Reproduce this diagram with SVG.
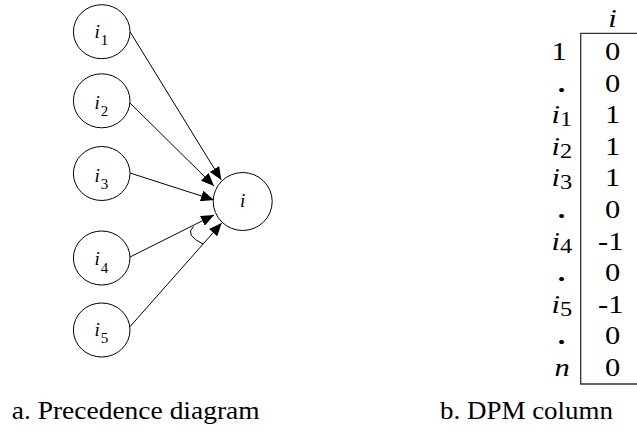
<svg xmlns="http://www.w3.org/2000/svg" width="637" height="431" viewBox="0 0 637 431" font-family="'Liberation Serif', 'Times New Roman', Times, serif">
  <style>
    .node { fill: #ffffff; stroke: #000000; stroke-width: 1; }
    .edge { fill: none; stroke: #000000; stroke-width: 1; }
    .rule { fill: none; stroke: #333333; stroke-width: 1.3; }
    text { font-family: 'Liberation Serif', 'Times New Roman', Times, serif; fill: #000000; }
    .lbl { font-size: 19px; font-style: italic; }
    .sub { font-size: 15px; font-style: normal; }
    .cell { font-size: 25px; }
    .tsub { font-size: 20px; font-style: normal; }
    .dot { font-weight: bold; }
    .caption { font-size: 25px; }
  </style>
  <defs>
    <marker id="arrow" markerUnits="userSpaceOnUse" markerWidth="13" markerHeight="11" viewBox="0 0 13 11" refX="13" refY="5.5" orient="auto">
      <path d="M0,0 L13,5.5 L0,11 z" fill="#000000"/>
    </marker>
  </defs>

  <!-- a. precedence diagram: connectors -->
  <g id="connectors">
    <line class="edge" x1="130" y1="31.7" x2="221.3" y2="180" marker-end="url(#arrow)"/>
    <line class="edge" x1="130" y1="103" x2="214" y2="186" marker-end="url(#arrow)"/>
    <line class="edge" x1="130" y1="173" x2="214" y2="200" marker-end="url(#arrow)"/>
    <line class="edge" x1="130" y1="257" x2="214" y2="215" marker-end="url(#arrow)"/>
    <line class="edge" x1="130" y1="326.7" x2="221.7" y2="223" marker-end="url(#arrow)"/>
    <!-- angle mark between the i4 and i5 edges -->
    <path class="edge" d="M193.5,226.5 Q184,235 203,244"/>
  </g>

  <!-- predecessor nodes -->
  <g id="node-i1">
    <ellipse class="node" cx="101.7" cy="31.7" rx="28.3" ry="27"/>
    <text class="lbl" x="94.5" y="38">i<tspan class="sub" dx="1" dy="7">1</tspan></text>
  </g>
  <g id="node-i2">
    <ellipse class="node" cx="101.7" cy="100.8" rx="28.3" ry="27"/>
    <text class="lbl" x="94.5" y="108.5">i<tspan class="sub" dx="1" dy="7">2</tspan></text>
  </g>
  <g id="node-i3">
    <ellipse class="node" cx="101.7" cy="173.5" rx="28.3" ry="27"/>
    <text class="lbl" x="94.5" y="181.5">i<tspan class="sub" dx="1" dy="7.5">3</tspan></text>
  </g>
  <g id="node-i4">
    <ellipse class="node" cx="101.7" cy="258" rx="28.3" ry="27"/>
    <text class="lbl" x="94.5" y="265">i<tspan class="sub" dx="1" dy="8">4</tspan></text>
  </g>
  <g id="node-i5">
    <ellipse class="node" cx="101.7" cy="330" rx="28.3" ry="27"/>
    <text class="lbl" x="94.5" y="335.5">i<tspan class="sub" dx="1" dy="7.5">5</tspan></text>
  </g>

  <!-- successor node -->
  <g id="node-i">
    <ellipse class="node" cx="242.7" cy="201.5" rx="29.5" ry="29"/>
    <text class="lbl" x="242.7" y="207" text-anchor="middle">i</text>
  </g>

  <!-- b. DPM column -->
  <g id="dpm-column">
    <path class="rule" d="M637,33.3 H580.7 V384 H637"/>

    <!-- column header -->
    <g transform="translate(612.5,0) scale(1.22,1)">
      <text class="cell" x="0" y="27.5" text-anchor="middle" font-style="italic" font-size="23">i</text>
    </g>

    <!-- row labels -->
    <g transform="translate(559,0) scale(1.22,1)">
      <text class="cell" x="0" y="60" text-anchor="middle">1</text>
      <text class="cell dot" x="2" y="91.6" text-anchor="middle">.</text>
      <text class="cell dot" x="2" y="218" text-anchor="middle">.</text>
      <text class="cell dot" x="2" y="281.2" text-anchor="middle">.</text>
      <text class="cell dot" x="2" y="344.4" text-anchor="middle">.</text>
      <text class="cell" x="2.5" y="376" text-anchor="middle" font-style="italic">n</text>
    </g>
    <g transform="translate(551.5,0) scale(1.22,1)">
      <text class="cell" x="0" y="123.2" font-style="italic">i<tspan class="tsub" dy="3">1</tspan></text>
      <text class="cell" x="0" y="154.8" font-style="italic">i<tspan class="tsub" dy="3">2</tspan></text>
      <text class="cell" x="0" y="186.4" font-style="italic">i<tspan class="tsub" dy="3">3</tspan></text>
      <text class="cell" x="0" y="249.6" font-style="italic">i<tspan class="tsub" dy="3">4</tspan></text>
      <text class="cell" x="0" y="312.8" font-style="italic">i<tspan class="tsub" dy="3">5</tspan></text>
    </g>

    <!-- column values -->
    <g transform="translate(612.5,0) scale(1.22,1)">
      <text class="cell" x="0" y="60" text-anchor="middle">0</text>
      <text class="cell" x="0" y="91.6" text-anchor="middle">0</text>
      <text class="cell" x="0" y="123.2" text-anchor="middle">1</text>
      <text class="cell" x="0" y="154.8" text-anchor="middle">1</text>
      <text class="cell" x="0" y="186.4" text-anchor="middle">1</text>
      <text class="cell" x="0" y="218" text-anchor="middle">0</text>
      <text class="cell" x="-1.5" y="249.6" text-anchor="middle">-1</text>
      <text class="cell" x="0" y="281.2" text-anchor="middle">0</text>
      <text class="cell" x="-1.5" y="312.8" text-anchor="middle">-1</text>
      <text class="cell" x="0" y="344.4" text-anchor="middle">0</text>
      <text class="cell" x="0" y="376" text-anchor="middle">0</text>
    </g>
  </g>

  <!-- captions -->
  <text class="caption" x="11.7" y="419" textLength="248" lengthAdjust="spacingAndGlyphs">a. Precedence diagram</text>
  <text class="caption" x="440" y="419" textLength="173" lengthAdjust="spacingAndGlyphs">b. DPM column</text>
</svg>
